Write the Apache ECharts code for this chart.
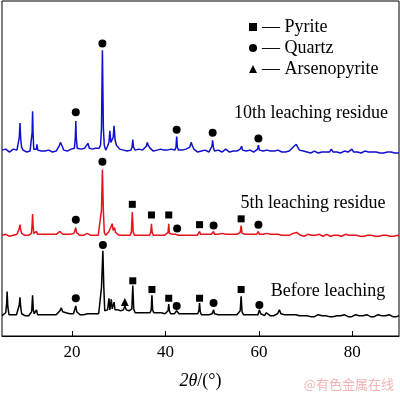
<!DOCTYPE html>
<html><head><meta charset="utf-8">
<script src="https://cdn.jsdelivr.net/npm/echarts@6/dist/echarts.min.js"></script>
<style>html,body{margin:0;padding:0;background:#fff}#c{width:400px;height:395px}</style>
</head><body><div id="c"></div>
<script>
// x tick labels
const xTicks = [20, 40, 60, 80];
const seriesNames = ['10th leaching residue', '5th leaching residue', 'Before leaching'];
// intensity traces (vertically offset), [2θ, value]
const tenthResidue = [[5.0,192],[5.4,191],[5.8,193],[6.2,192],[6.6,190],[7.0,192],[7.4,193],[7.8,191],[8.2,192],[8.5,194],[8.7,205],[8.85,220],[9.0,204],[9.2,195],[9.5,192],[9.9,191],[10.3,190],[10.7,192],[11.0,191],[11.3,193],[11.45,210],[11.55,232],[11.65,210],[11.8,193],[12.1,191],[12.35,193],[12.5,198],[12.65,192],[13.0,190],[13.4,191],[13.8,189],[14.2,191],[14.6,190],[15.0,192],[15.4,191],[15.8,190],[16.2,192],[16.6,191],[17.0,193],[17.3,197],[17.5,200],[17.7,198],[17.9,196],[18.2,192],[18.6,193],[19.0,191],[19.4,192],[19.8,193],[20.2,191],[20.5,194],[20.7,205],[20.8,222],[20.9,205],[21.1,194],[21.5,192],[21.9,193],[22.3,191],[22.7,194],[23.0,193],[23.4,199],[23.7,194],[24.0,196],[24.3,193],[24.7,195],[25.0,194],[25.4,196],[25.8,194],[26.1,197],[26.3,215],[26.5,295],[26.7,215],[26.9,197],[27.2,192],[27.6,196],[27.9,200],[28.1,212],[28.3,200],[28.5,202],[28.8,205],[29.0,217],[29.2,203],[29.5,197],[29.8,195],[30.2,193],[30.6,194],[31.0,192],[31.4,193],[31.8,191],[32.2,193],[32.6,192],[32.85,195],[33.0,203],[33.15,195],[33.5,192],[33.9,191],[34.3,193],[34.7,191],[35.1,192],[35.5,194],[35.9,196],[36.1,200],[36.3,197],[36.5,199],[36.7,194],[37.0,192],[37.4,191],[37.8,193],[38.2,192],[38.6,191],[39.0,193],[39.3,195],[39.6,192],[40.0,191],[40.4,192],[40.8,191],[41.2,193],[41.6,191],[42.0,192],[42.25,195],[42.4,206],[42.55,195],[42.8,192],[43.2,190],[43.6,192],[44.0,191],[44.4,193],[44.8,192],[45.2,195],[45.5,200],[45.8,196],[46.1,193],[46.5,191],[46.9,190],[47.3,192],[47.7,191],[48.1,190],[48.5,192],[48.9,191],[49.3,190],[49.7,192],[49.95,196],[50.1,202],[50.25,195],[50.5,191],[50.9,190],[51.3,192],[51.7,191],[52.1,190],[52.5,191],[52.9,193],[53.3,191],[53.7,190],[54.1,192],[54.5,191],[54.9,190],[55.3,191],[55.7,192],[56.0,193],[56.3,196],[56.5,192],[56.9,190],[57.3,191],[57.7,190],[58.1,192],[58.5,191],[58.9,190],[59.3,191],[59.7,193],[59.9,197],[60.1,192],[60.5,190],[60.9,191],[61.3,190],[61.7,192],[62.1,190],[62.5,191],[62.9,189],[63.3,191],[63.7,190],[64.1,192],[64.5,191],[64.9,190],[65.3,191],[65.7,190],[66.1,192],[66.5,191],[66.9,193],[67.3,195],[67.7,197],[68.0,198],[68.3,195],[68.7,192],[69.1,190],[69.5,191],[69.9,189],[70.3,190],[70.7,191],[71.1,189],[71.5,190],[71.9,191],[72.3,190],[72.7,189],[73.1,191],[73.5,190],[73.9,189],[74.3,190],[74.7,191],[75.1,190],[75.5,193],[75.9,190],[76.3,189],[76.7,190],[77.1,191],[77.5,189],[77.9,190],[78.3,191],[78.7,189],[79.1,190],[79.5,191],[79.9,193],[80.3,190],[80.7,189],[81.1,190],[81.5,191],[81.9,189],[82.3,190],[82.7,191],[83.1,189],[83.5,190],[83.9,191],[84.3,190],[84.7,189],[85.1,190],[85.5,191],[85.9,189],[86.3,190],[86.7,189],[87.1,191],[87.5,190],[87.9,189],[88.3,190],[88.7,191],[89.1,189],[89.5,190],[90.0,189]];
const fifthResidue = [[5.0,104],[5.4,103],[5.8,105],[6.2,104],[6.6,103],[7.0,105],[7.4,104],[7.8,106],[8.2,105],[8.5,107],[8.7,111],[8.85,115],[9.0,110],[9.2,106],[9.5,105],[9.9,104],[10.3,105],[10.7,104],[11.0,105],[11.3,106],[11.45,115],[11.55,126],[11.65,115],[11.8,106],[12.1,105],[12.4,108],[12.6,105],[13.0,104],[13.4,105],[13.8,104],[14.2,105],[14.6,104],[15.0,105],[15.4,104],[15.8,105],[16.2,104],[16.6,105],[17.0,106],[17.4,108],[17.7,107],[18.0,105],[18.4,104],[18.8,105],[19.2,104],[19.6,105],[20.0,104],[20.4,106],[20.65,108],[20.8,112],[20.95,107],[21.2,105],[21.6,104],[22.0,105],[22.4,104],[22.8,105],[23.2,106],[23.6,105],[24.0,104],[24.4,105],[24.8,104],[25.2,105],[25.6,104],[26.0,106],[26.3,130],[26.5,172],[26.7,130],[26.9,107],[27.2,104],[27.6,106],[27.9,108],[28.2,110],[28.6,116],[28.8,109],[29.1,112],[29.3,107],[29.6,105],[30.0,104],[30.4,105],[30.8,104],[31.2,105],[31.6,104],[32.0,105],[32.4,104],[32.7,107],[32.9,128],[33.1,107],[33.4,104],[33.8,105],[34.2,104],[34.6,105],[35.0,104],[35.4,105],[35.8,104],[36.2,105],[36.6,104],[36.85,107],[37.0,116],[37.15,107],[37.4,104],[37.8,105],[38.2,104],[38.6,105],[39.0,104],[39.4,106],[39.8,104],[40.2,105],[40.55,107],[40.7,116],[40.85,106],[41.1,104],[41.5,105],[41.9,104],[42.2,105],[42.5,107],[42.8,104],[43.2,105],[43.6,104],[44.0,105],[44.4,104],[44.8,105],[45.2,104],[45.6,106],[46.0,104],[46.4,105],[46.8,104],[47.1,105],[47.3,108],[47.5,105],[47.8,104],[48.2,105],[48.6,104],[49.0,105],[49.4,104],[49.8,105],[50.1,107],[50.3,108],[50.5,105],[50.9,104],[51.3,105],[51.7,104],[52.1,106],[52.5,104],[52.9,105],[53.3,104],[53.7,105],[54.1,104],[54.5,105],[54.9,104],[55.3,105],[55.7,104],[56.0,107],[56.2,114],[56.4,106],[56.7,104],[57.1,105],[57.5,104],[57.9,105],[58.3,104],[58.7,105],[59.1,104],[59.5,105],[59.7,106],[59.9,108],[60.1,105],[60.5,104],[60.9,105],[61.3,104],[61.7,106],[62.1,104],[62.5,105],[62.9,104],[63.3,105],[63.7,104],[64.1,105],[64.5,106],[64.9,104],[65.3,105],[65.7,104],[66.1,105],[66.5,104],[66.9,105],[67.3,106],[67.7,105],[68.1,107],[68.5,105],[68.9,104],[69.3,105],[69.7,103],[70.1,104],[70.5,105],[70.9,103],[71.3,104],[71.7,105],[72.1,104],[72.5,103],[72.9,105],[73.3,104],[73.7,103],[74.1,104],[74.5,105],[74.9,104],[75.3,103],[75.7,105],[76.1,104],[76.5,103],[76.9,104],[77.3,105],[77.7,103],[78.1,104],[78.5,105],[78.9,103],[79.3,104],[79.7,105],[80.1,104],[80.5,103],[80.9,104],[81.3,105],[81.7,103],[82.1,104],[82.5,103],[82.9,105],[83.3,104],[83.7,103],[84.1,104],[84.5,105],[84.9,103],[85.3,104],[85.7,103],[86.1,105],[86.5,104],[86.9,103],[87.3,104],[87.7,105],[88.1,103],[88.5,104],[88.9,103],[89.3,105],[89.7,104],[90.0,103]];
const beforeLeaching = [[5.0,21],[5.4,22],[5.8,24],[6.0,34],[6.1,46],[6.25,30],[6.5,22],[6.9,21],[7.3,22],[7.7,21],[8.1,22],[8.5,24],[8.7,32],[8.85,40],[9.0,30],[9.2,23],[9.5,22],[9.9,21],[10.3,22],[10.7,21],[11.1,22],[11.35,25],[11.55,42],[11.7,27],[11.9,23],[12.2,22],[12.4,27],[12.6,22],[13.0,21],[13.4,22],[13.8,21],[14.2,22],[14.6,23],[15.0,22],[15.4,23],[15.8,22],[16.2,23],[16.6,22],[17.0,24],[17.4,26],[17.7,29],[18.0,25],[18.3,23],[18.7,24],[19.1,22],[19.5,23],[19.9,22],[20.3,23],[20.6,25],[20.8,31],[21.0,25],[21.3,23],[21.7,22],[22.1,23],[22.5,22],[22.9,24],[23.3,23],[23.7,24],[24.1,23],[24.5,24],[24.9,23],[25.3,24],[25.7,23],[26.0,25],[26.3,50],[26.6,88],[26.8,50],[27.0,26],[27.3,24],[27.6,27],[27.9,39],[28.1,27],[28.4,38],[28.6,28],[28.8,30],[29.0,35],[29.2,27],[29.5,26],[29.8,27],[30.1,25],[30.4,26],[30.7,25],[31.0,27],[31.3,31],[31.6,27],[31.9,25],[32.2,26],[32.5,25],[32.8,28],[33.0,52],[33.2,28],[33.5,24],[33.9,25],[34.3,24],[34.7,25],[35.1,24],[35.5,25],[35.9,24],[36.3,25],[36.7,24],[36.95,27],[37.1,42],[37.25,27],[37.5,24],[37.9,23],[38.3,24],[38.7,23],[39.1,24],[39.5,25],[39.9,23],[40.3,24],[40.55,26],[40.7,33],[40.85,26],[41.1,23],[41.5,24],[41.9,23],[42.2,24],[42.4,26],[42.6,24],[42.9,23],[43.3,22],[43.7,23],[44.1,22],[44.5,23],[44.9,22],[45.3,23],[45.7,25],[46.1,23],[46.5,22],[46.9,23],[47.15,26],[47.3,34],[47.45,25],[47.7,22],[48.1,21],[48.5,22],[48.9,21],[49.3,22],[49.7,21],[50.0,23],[50.3,27],[50.5,23],[50.9,21],[51.3,22],[51.7,21],[52.1,22],[52.5,21],[52.9,22],[53.3,21],[53.7,22],[54.1,21],[54.5,22],[54.9,23],[55.3,22],[55.7,23],[56.0,26],[56.2,41],[56.4,25],[56.7,22],[57.1,21],[57.5,22],[57.9,21],[58.3,22],[58.7,21],[59.1,22],[59.5,23],[59.8,22],[60.1,27],[60.4,23],[60.8,22],[61.2,21],[61.6,24],[62.0,22],[62.4,21],[62.8,22],[63.2,21],[63.6,22],[64.0,23],[64.4,27],[64.7,23],[65.1,21],[65.5,22],[65.9,21],[66.3,22],[66.7,21],[67.1,22],[67.5,21],[67.9,22],[68.3,23],[68.7,21],[69.1,22],[69.5,21],[69.9,20],[70.3,21],[70.7,22],[71.1,20],[71.5,21],[71.9,20],[72.3,21],[72.7,22],[73.1,20],[73.5,21],[73.9,20],[74.3,21],[74.7,22],[75.1,20],[75.5,21],[75.9,20],[76.3,22],[76.7,21],[77.1,20],[77.5,21],[77.9,20],[78.3,22],[78.7,21],[79.1,20],[79.5,21],[79.9,20],[80.3,21],[80.7,22],[81.1,20],[81.5,21],[81.9,20],[82.3,21],[82.7,20],[83.1,22],[83.5,21],[83.9,20],[84.3,21],[84.7,20],[85.1,21],[85.5,22],[85.9,20],[86.3,21],[86.7,20],[87.1,21],[87.5,20],[87.9,22],[88.3,21],[88.7,20],[89.1,21],[89.5,20],[90.0,21]];
// phase markers, [2θ, value]
const pyritePts = [[32.9,136],[37.0,125],[40.7,125],[47.3,115],[56.2,121],[33.0,57],[37.1,48],[40.7,39],[47.3,39],[56.2,48]];
const quartzPts = [[20.8,231],[26.5,302],[42.4,213],[50.1,210],[59.9,204],[20.8,120],[26.5,180],[42.5,111],[50.3,114],[59.9,115],[20.8,39],[26.6,94],[42.4,31],[50.3,34],[60.1,32]];
const arsenoPts = [[31.3,35]];

const SERIF = 'Liberation Serif';
const chart = echarts.init(document.getElementById('c'), null, {renderer: 'canvas'});
const markStyle = {color: '#000', opacity: 1};
chart.setOption({
  animation: false,
  backgroundColor: '#fff',
  grid: {left: 2, right: 1, top: 1, bottom: 48, show: true, borderColor: '#000', borderWidth: 1},
  legend: {
    orient: 'vertical', left: 244, top: 13, itemGap: 3,
    itemWidth: 8, itemHeight: 8,
    data: ['Pyrite', 'Quartz', 'Arsenopyrite'],
    formatter: n => '\u2014 ' + n,
    itemStyle: {color: '#000', opacity: 1},
    textStyle: {fontFamily: SERIF, fontSize: 18, color: '#000', lineHeight: 18},
    selectedMode: false
  },
  xAxis: {
    type: 'value', min: 5, max: 90,
    axisLine: {lineStyle: {color: '#000', width: 1}},
    axisTick: {inside: true, length: 5, lineStyle: {color: '#000'}, customValues: xTicks},
    axisLabel: {customValues: xTicks, fontFamily: SERIF, fontSize: 17, color: '#000', margin: 8},
    splitLine: {show: false},
    name: '{i|2θ}/(°)', nameLocation: 'middle', nameGap: 36,
    nameTextStyle: {fontFamily: SERIF, fontSize: 18, color: '#000',
      rich: {i: {fontFamily: SERIF, fontSize: 18, fontStyle: 'italic', color: '#000'}}}
  },
  yAxis: {type: 'value', min: 0, max: 346, show: false, splitLine: {show: false}},
  graphic: [
    {type: 'text', x: 311, y: 113, style: {text: seriesNames[0], font: '18px "Liberation Serif"', fill: '#000', align: 'center', verticalAlign: 'middle'}},
    {type: 'text', x: 313, y: 203, style: {text: seriesNames[1], font: '18px "Liberation Serif"', fill: '#000', align: 'center', verticalAlign: 'middle'}},
    {type: 'text', x: 328, y: 291, style: {text: seriesNames[2], font: '18px "Liberation Serif"', fill: '#000', align: 'center', verticalAlign: 'middle'}},
    {type: 'text', x: 394, y: 384, style: {text: '@有色金属在线', font: '13px "Noto Sans CJK SC"', fill: '#f2b3b3', align: 'right', verticalAlign: 'middle'}}
  ],
  series: [
    {type: 'line', name: seriesNames[0], data: tenthResidue, showSymbol: false, lineStyle: {color: '#1010d0', width: 1.5}, itemStyle: {color: '#1010d0'}},
    {type: 'line', name: seriesNames[1], data: fifthResidue, showSymbol: false, lineStyle: {color: '#e8141c', width: 1.5}, itemStyle: {color: '#e8141c'}},
    {type: 'line', name: seriesNames[2], data: beforeLeaching, showSymbol: false, lineStyle: {color: '#000', width: 1.5}, itemStyle: {color: '#000'}},
    {type: 'scatter', name: 'Pyrite', data: pyritePts, symbol: 'rect', symbolSize: 7, itemStyle: markStyle, z: 5},
    {type: 'scatter', name: 'Quartz', data: quartzPts, symbol: 'circle', symbolSize: 8, itemStyle: markStyle, z: 5},
    {type: 'scatter', name: 'Arsenopyrite', data: arsenoPts, symbol: 'triangle', symbolSize: 8, itemStyle: markStyle, z: 5}
  ]
});
</script></body></html>
